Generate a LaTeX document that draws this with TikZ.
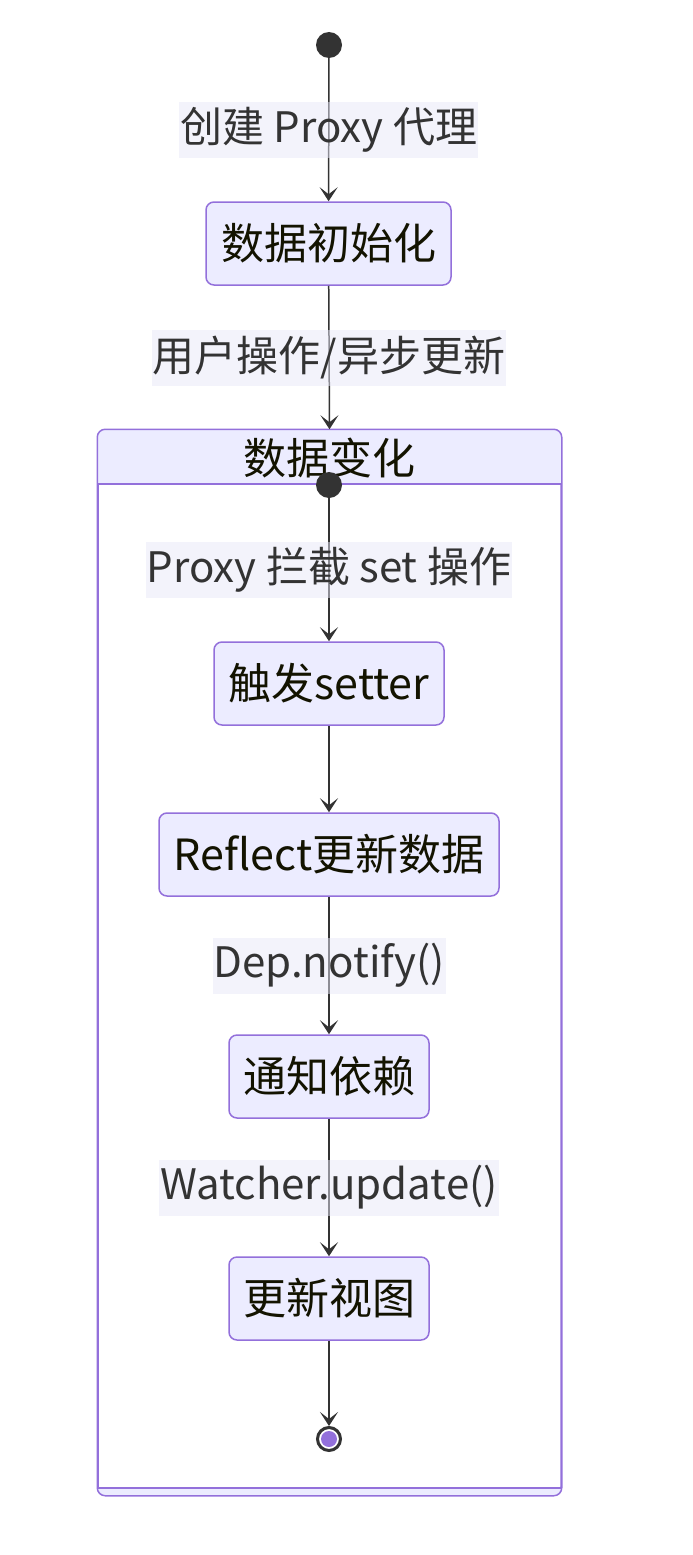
\documentclass[tikz,border=0pt]{standalone}
\usepackage{fontspec}
\setmainfont{Noto Sans CJK SC}
\usetikzlibrary{positioning,arrows.meta}
\definecolor{nodefill}{HTML}{ECECFF}
\definecolor{nodeline}{HTML}{9370DB}
\definecolor{edgeline}{HTML}{333333}
\definecolor{nodetext}{HTML}{131300}
\definecolor{lblfill}{HTML}{E8E8F8}

\begin{document}
\begin{tikzpicture}[x=1pt,y=-1pt,
    state/.style={draw=nodeline, line width=1.5pt, fill=nodefill, rounded corners=8pt,
      minimum height=83pt, inner xsep=2pt, text=nodetext, font=\fontsize{43}{50}\selectfont},
    lbl/.style={fill=lblfill, fill opacity=0.5, text opacity=1, text=edgeline,
      minimum height=56pt, inner xsep=1pt, font=\fontsize{42}{50}\selectfont},
    edge/.style={draw=edgeline, line width=1.5pt, -{Stealth[length=14pt,width=18pt,inset=7pt]}},
    startdot/.style={circle, fill=edgeline, minimum size=26pt, inner sep=0pt},
    enddot/.style={circle, draw=edgeline, line width=3pt, fill=white, minimum size=23pt, inner sep=0pt}]
    \useasboundingbox (0,0) rectangle (693,1555);

    %% Outer states
    \node[startdot] (start) at (329,45) {};
    \node[state, minimum width=245pt] (init) at (328.5,243.5) {数据初始化};

    %% Composite state
    \node[draw=nodeline, line width=1.5pt, fill=white, rounded corners=8pt,
      minimum width=463pt, minimum height=1065pt, inner sep=0pt] (change) at (329.5,962.5) {};
    \begin{scope}
        \clip[rounded corners=8pt] (change.north west) rectangle (change.south east);
        \fill[nodefill] (98,430) rectangle (561,484);
        \fill[nodefill] (98,1488) rectangle (561,1495);
    \end{scope}
    \draw[nodeline, line width=1.5pt, rounded corners=8pt] (change.north west) rectangle (change.south east);
    \draw[nodeline, line width=1.5pt] (98,484) -- (561,484);
    \draw[nodeline, line width=1.5pt] (98,1488) -- (561,1488);
    \node[text=nodetext, font=\fontsize{43}{50}\selectfont] (changetitle) at (329,458) {数据变化};

    %% Inner states
    \node[startdot] (innerstart) at (329,485) {};
    \node[state, minimum width=230pt] (setter) at (329,683.5) {触发setter};
    \node[state, minimum width=340pt] (reflect) at (329,854.5) {Reflect更新数据};
    \node[state, minimum width=200pt] (notify) at (329,1076.5) {通知依赖};
    \node[state, minimum width=200pt] (view) at (329,1298.5) {更新视图};
    \node[enddot] (finish) at (329,1439) {};
    \fill[nodeline] (finish) circle (8pt);

    %% Transitions
    \draw[edge] (start) -- node[lbl] (lblproxy) {创建 Proxy 代理} (init);
    \draw[edge] (init) -- node[lbl] (lbluser) {用户操作/异步更新} (change.north);
    \draw[edge] (innerstart) -- node[lbl] (lblset) {Proxy 拦截 set 操作} (setter);
    \draw[edge] (setter) -- (reflect);
    \draw[edge] (reflect) -- node[lbl] (lbldep) {Dep.notify()} (notify);
    \draw[edge] (notify) -- node[lbl] (lblwatch) {Watcher.update()} (view);
    \draw[edge] (view) -- (finish);
\end{tikzpicture}
\end{document}
